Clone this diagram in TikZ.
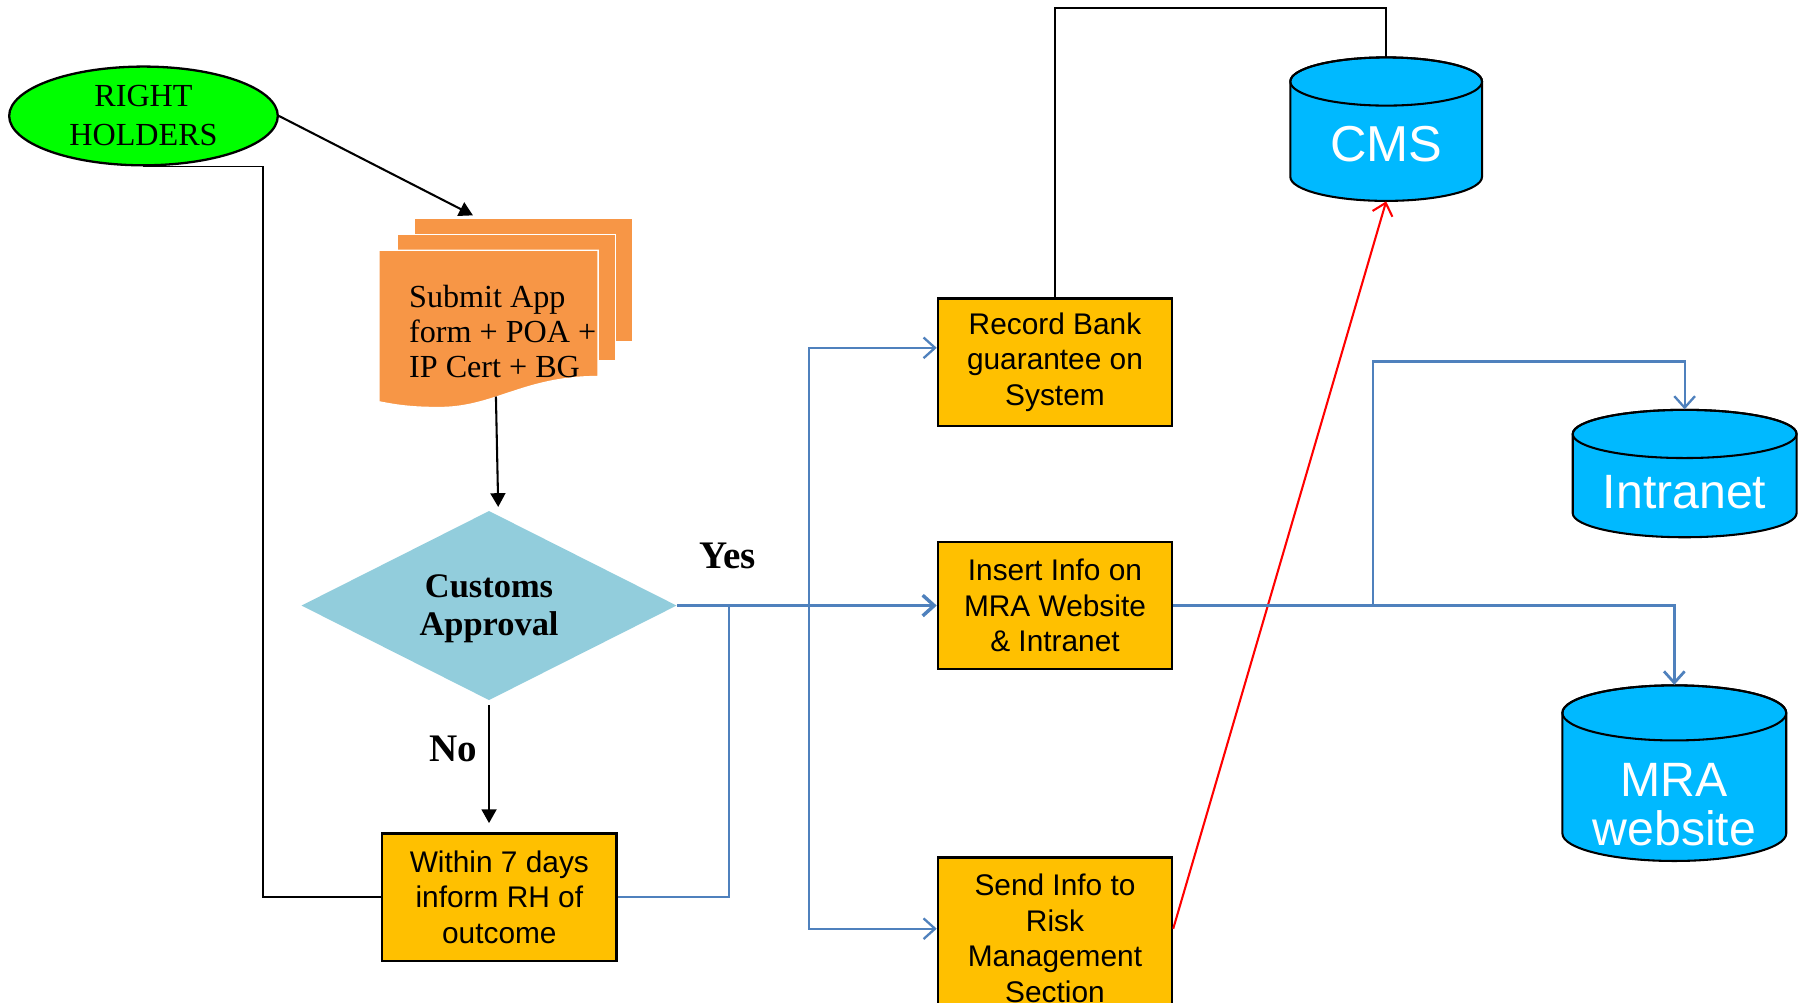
\documentclass[tikz,border=0pt]{standalone}
\usepackage{fontspec}
\setmainfont{Liberation Serif}
\setsansfont{Liberation Sans}
\usetikzlibrary{shapes.geometric,arrows.meta,calc}
\definecolor{rhgreen}{HTML}{00FF00}
\definecolor{docorange}{HTML}{F79646}
\definecolor{diamblue}{HTML}{92CDDC}
\definecolor{boxyellow}{HTML}{FFC000}
\definecolor{cylblue}{HTML}{00B9FF}
\definecolor{linkblue}{HTML}{4F81BD}
\begin{document}
\begin{tikzpicture}[x=0.5pt,y=-0.5pt,
  box/.style={draw=black, line width=1pt, fill=boxyellow, minimum width=102pt, minimum height=55.5pt, align=center, font=\sffamily\fontsize{13}{15.5}\selectfont, inner sep=2pt},
  blk/.style={draw=black, line width=0.75pt},
  blkarrow/.style={blk, line width=0.9pt, -{Triangle[length=6pt,width=6.5pt]}},
  bl/.style={draw=linkblue, line width=1pt},
  blarrow/.style={bl, -{Straight Barb[length=5pt,width=9pt]}},
  cylnode/.style={minimum width=#1, inner sep=0pt},
  cyllbl/.style={text=white, font=\sffamily\fontsize{21}{21.5}\selectfont, align=center, inner sep=0pt},
  cylbody/.style={fill=cylblue, draw=black, line width=0.9pt},
  sheet/.style={fill=docorange, draw=white, line width=0.6pt},
  yn/.style={font=\bfseries\fontsize{17}{17}\selectfont}
]
\clip (0,0) rectangle (1568,873);
\fill[white] (0,0) rectangle (1568,873);

% ---- cylinders (shapes) ----
\path[cylbody] (1124,71) -- (1124,154) arc[start angle=180,end angle=360,x radius=41.75pt,y radius=10.5pt] -- (1291,71) arc[start angle=0,end angle=180,x radius=41.75pt,y radius=10.5pt] -- cycle;
\draw[line width=0.9pt] (1207.5,71) ellipse[x radius=41.75pt,y radius=10.5pt];
\path[cylbody] (1370,378) -- (1370,447) arc[start angle=180,end angle=360,x radius=48.75pt,y radius=10.5pt] -- (1565,378) arc[start angle=0,end angle=180,x radius=48.75pt,y radius=10.5pt] -- cycle;
\draw[line width=0.9pt] (1467.5,378) ellipse[x radius=48.75pt,y radius=10.5pt];
\path[cylbody] (1361,621) -- (1361,726) arc[start angle=180,end angle=360,x radius=48.75pt,y radius=12pt] -- (1556,621) arc[start angle=0,end angle=180,x radius=48.75pt,y radius=12pt] -- cycle;
\draw[line width=0.9pt] (1458.5,621) ellipse[x radius=48.75pt,y radius=12pt];

\node[cylnode=83.5pt, minimum height=62.5pt, label={[cyllbl,font=\sffamily\fontsize{22}{22}\selectfont,yshift=-6.5pt]center:CMS}] (cms) at (1207.5,112.5) {};
\node[cylnode=97.5pt, minimum height=55.5pt, label={[cyllbl,yshift=-8.25pt]center:Intranet}] (intra) at (1467.5,412.5) {};
\node[cylnode=97.5pt, minimum height=76.5pt, label={[cyllbl,yshift=-13.75pt]center:MRA\\website}] (mra) at (1458.5,673.5) {};

% ---- right holders ----
\node[ellipse, draw, line width=1pt, fill=rhgreen, minimum width=117pt, minimum height=43pt, inner sep=0pt, align=center, font=\fontsize{14}{17}\selectfont] (rh) at (125,101) {RIGHT\\HOLDERS};

% ---- multi-document ----
\path[sheet] (361,190) rectangle (551,298);
\path[sheet] (346,204) rectangle (536,314);
\path[sheet] (330,218) -- (521,218) -- (521,328) .. controls (455,328) and (430,356) .. (380,355) .. controls (355,355) and (340,352) .. (330,350) -- cycle;
\node[minimum width=110.5pt, minimum height=82.5pt, inner sep=0pt] (doc) at (440.5,272.5) {};
\node[align=left, inner sep=0pt, anchor=west, font=\fontsize{14}{15.25}\selectfont] (doctxt) at (356,289) {Submit App\\form + POA +\\IP Cert + BG};

% ---- decision ----
\node[diamond, fill=diamblue, minimum width=163.5pt, minimum height=82.5pt, aspect=2, inner sep=0pt,
  label={[align=center, inner sep=0pt, yshift=-1.5pt, font=\bfseries\fontsize{15}{16.5}\selectfont]center:Customs\\Approval}] (cust) at (426,527.5) {};
\node[yn] (yes) at (634,484) {Yes};
\node[yn] (no) at (395,652) {No};

% ---- boxes ----
\node[box] (within) at (435,781.5) {Within 7 days\\inform RH of\\outcome};
\node[box] (record) at (919,315.5) {Record Bank\\guarantee on\\System};
\node[box] (insert) at (919,527.5) {Insert Info on\\MRA Website\\\& Intranet};
\node[box, minimum height=70.5pt] (send) at (919,817.5) {Send Info to\\Risk\\Management\\Section};

% ---- connectors ----
\draw[blkarrow] (rh.east) -- ([xshift=-14.25pt,yshift=1pt]doc.north);
\draw[blkarrow] ([xshift=-4.25pt,yshift=5pt]doc.south) -- ([xshift=4pt,yshift=1.5pt]cust.north);
\draw[blkarrow, shorten <=2pt, shorten >=4pt] (cust.south) -- (cust.south |- within.north);
\draw[blk, line width=0.6pt] (within.west) -- ++(-103,0) |- (rh.south);
\draw[bl] (within.east) -- ++(97,0) -- ++(0,-254);
\draw[blarrow, line width=1.5pt] (cust.east) -- (insert.west);
\coordinate (j1) at (705,527.5);
\draw[blarrow] (j1) |- ([yshift=6.25pt]record.west);
\draw[blarrow] (j1) |- ([yshift=4.25pt]send.west);
\draw[blk] (record.north) -- ++(0,-252) -| (cms.north);
\draw[draw=red, line width=0.9pt, -{Straight Barb[length=5pt,width=9pt]}] ([yshift=4.25pt]send.east) -- (cms.south);
\draw[blarrow, line width=1.2pt] (insert.east) -| (mra.north);
\coordinate (j2) at (1196,527.5);
\draw[blarrow] (j2) -- ++(0,-212.5) -| (intra.north);
\end{tikzpicture}
\end{document}
